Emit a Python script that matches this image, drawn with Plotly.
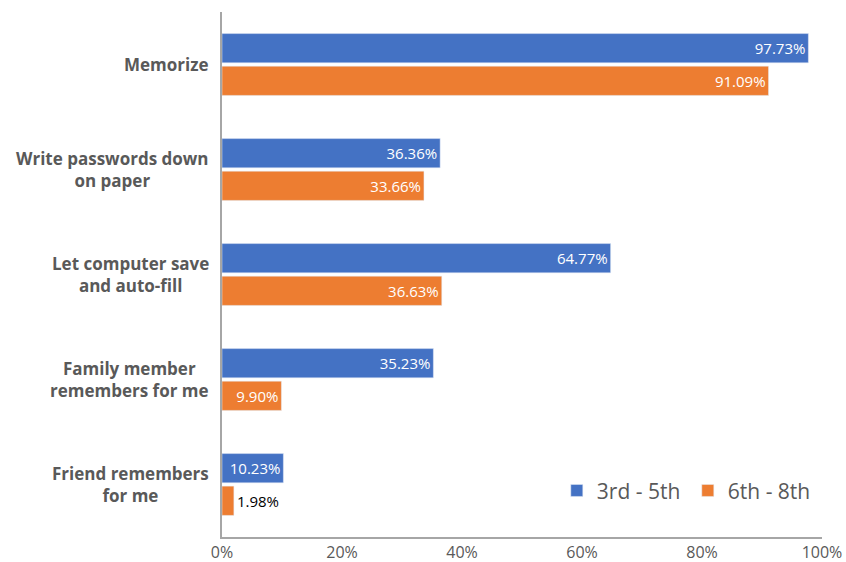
import plotly.graph_objects as go

categories = ["Memorize", "Write passwords down<br>on paper", "Let computer save<br>and auto-fill",
              "Family member<br>remembers for me", "Friend remembers<br>for me"]
series_names = ["3rd - 5th", "6th - 8th"]
grade_3_5 = [97.73, 36.36, 64.77, 35.23, 10.23]
grade_6_8 = [91.09, 33.66, 36.63, 9.90, 1.98]
x_ticks = [0, 20, 40, 60, 80, 100]

BLUE = "#4472C4"
ORANGE = "#ED7D31"
GRAY = "#595959"
LINE = "#A6A6A6"
FONT = "Open Sans"

fig = go.Figure()
fig.add_trace(go.Bar(
    y=categories, x=grade_3_5, name=series_names[0], orientation="h",
    marker=dict(color=BLUE),
    texttemplate="%{x:.2f}%", textposition="inside", insidetextanchor="end",
    textfont=dict(color="white", size=15, family=FONT),
))
pos2 = ["inside" if v >= 5 else "outside" for v in grade_6_8]
col2 = ["white" if v >= 5 else "black" for v in grade_6_8]
fig.add_trace(go.Bar(
    y=categories, x=grade_6_8, name=series_names[1], orientation="h",
    marker=dict(color=ORANGE),
    texttemplate="%{x:.2f}%", textposition=pos2, insidetextanchor="end",
    textfont=dict(color=col2, size=15, family=FONT),
    outsidetextfont=dict(color="black", size=15, family=FONT),
    cliponaxis=False,
))

for c in categories:
    fig.add_annotation(
        x=0, xref="x", y=c, yref="y", text=f"<b>{c}</b>", showarrow=False,
        xanchor="right", xshift=-11, align="center",
        font=dict(size=17, color=GRAY, family=FONT),
    )

fig.update_layout(
    width=846, height=562,
    margin=dict(l=222, r=24, t=12, b=25, autoexpand=False),
    paper_bgcolor="white", plot_bgcolor="white",
    barmode="group", bargap=0.38, bargroupgap=0.1,
    uniformtext=dict(minsize=15, mode="show"),
    font=dict(family=FONT, color=GRAY),
    legend=dict(
        orientation="h", x=0.558, y=0.088, xanchor="left", yanchor="middle",
        font=dict(size=21, color=GRAY, family=FONT), bgcolor="rgba(0,0,0,0)",
        entrywidth=86, entrywidthmode="pixels", traceorder="normal",
    ),
    showlegend=True,
)
fig.update_xaxes(
    range=[0, 100], tickvals=x_ticks, ticktext=[f"{t}%" for t in x_ticks],
    showgrid=False, zeroline=False, showline=True, linecolor=LINE, linewidth=2,
    ticks="", tickfont=dict(size=16, color=GRAY, family=FONT), automargin=False,
)
fig.update_yaxes(
    autorange="reversed", showticklabels=False, showgrid=False, zeroline=False,
    showline=True, linecolor=LINE, linewidth=2, ticks="", automargin=False,
)

fig.write_html("out.html", config={"displayModeBar": False},
               post_script="document.body.style.margin='0';document.body.style.overflow='hidden';")
